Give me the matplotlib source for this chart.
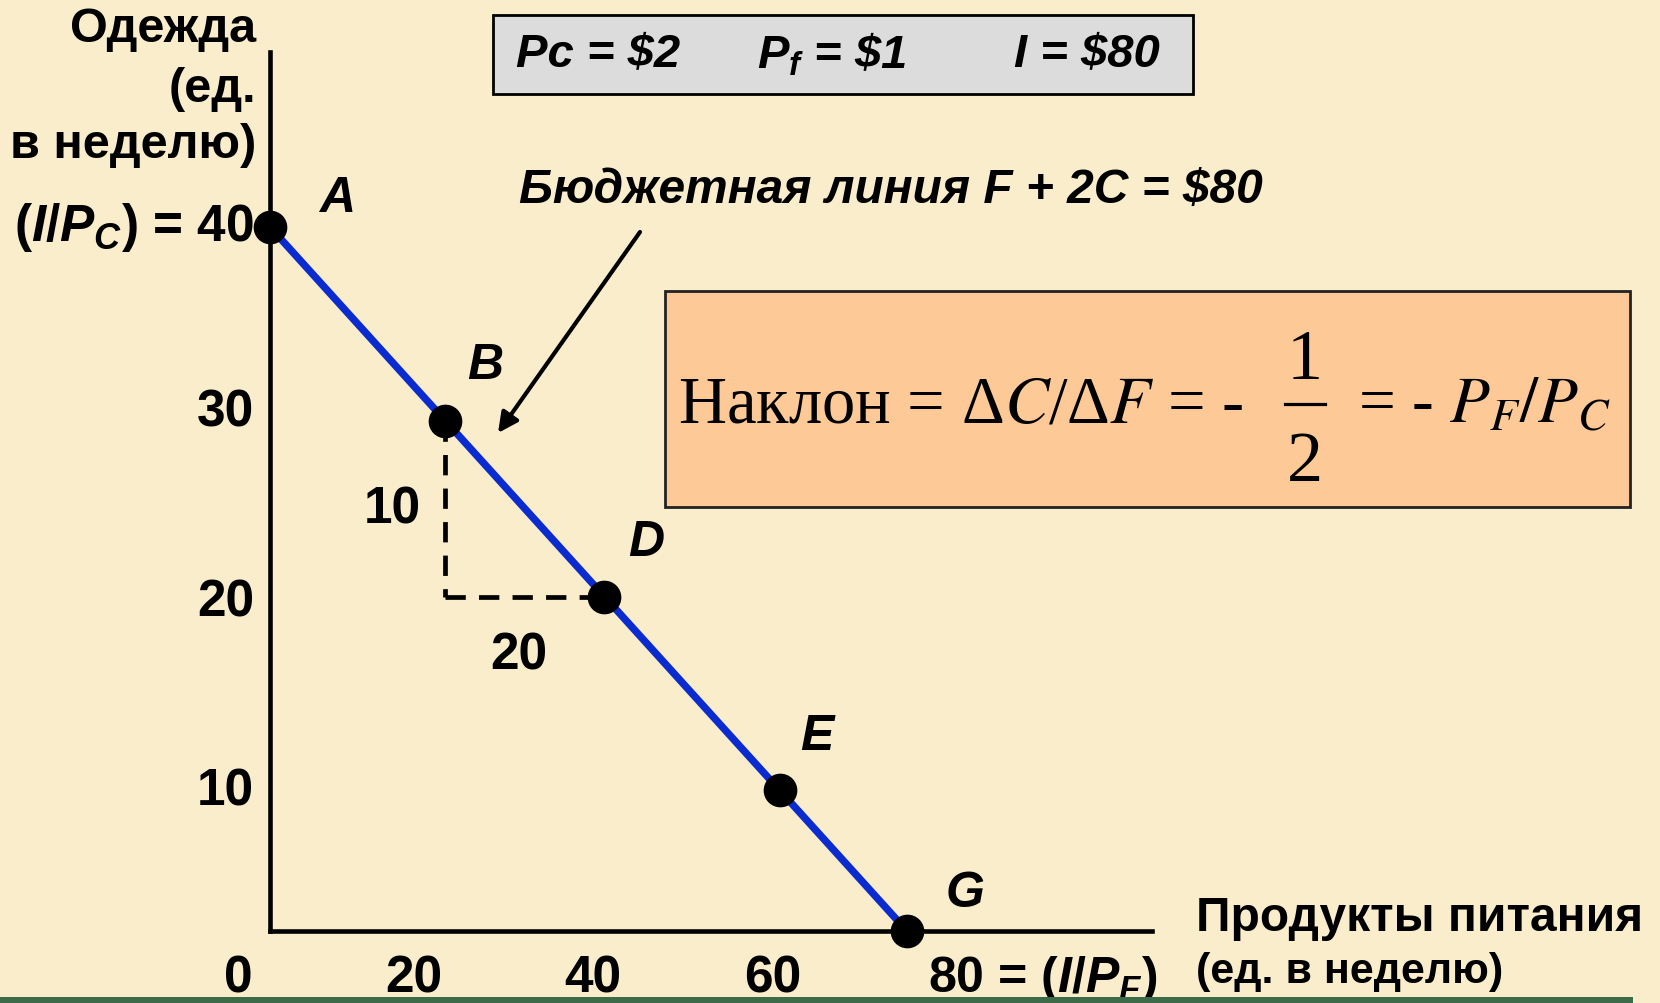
import matplotlib
matplotlib.use("Agg")
import matplotlib.pyplot as plt
from matplotlib.patches import Rectangle
from matplotlib.lines import Line2D

plt.rcParams["font.family"] = ["Liberation Sans", "DejaVu Sans"]
plt.rcParams["mathtext.fontset"] = "custom"
plt.rcParams["mathtext.rm"] = "Liberation Sans:bold"
plt.rcParams["mathtext.it"] = "Liberation Sans:bold:italic"
plt.rcParams["mathtext.bf"] = "Liberation Sans:bold"

# points on the budget line
point_names = ["A", "B", "D", "E", "G"]
food = [0, 22, 42, 64, 80]
clothing = [40, 29, 19, 8, 0]

x_tick_labels = ["0", "20", "40", "60"]
x_tick_at = [-4, 18, 40.6, 63.2]
y_tick_labels = ["$(I/P_C)$ = 40", "30", "20", "10"]
y_tick_at = [40, 29.5, 18.7, 7.95]

BG = "#f9edcb"
BLUE = "#0a2bd0"
W, H = 1660, 1004


def fx(px):
    return px / W


def fy(py):
    return 1 - py / H


fig = plt.figure(figsize=(16.6, 10.04), dpi=100)
fig.patch.set_facecolor(BG)

# axes: x=0 at px 270, x=80 at px 907; y=0 at px 932, y=40 at px 228
sx = (907 - 270) / 80
sy = (932 - 228) / 40
ax = fig.add_axes([fx(270), fy(932), (1152 - 270) / W, (932 - 53) / H])
ax.set_xlim(0, (1152 - 270) / sx)
ax.set_ylim(0, (932 - 53) / sy)
ax.set_facecolor("none")
for s in ["top", "right"]:
    ax.spines[s].set_visible(False)
for s in ["left", "bottom"]:
    ax.spines[s].set_linewidth(3.3)
ax.set_xticks([])
ax.set_yticks([])

ax.plot(food, clothing, color=BLUE, lw=5.3, solid_capstyle="butt", zorder=3)
ax.scatter(food, clothing, s=540, color="black", zorder=5, clip_on=False)

label_off = [(48, 21), (29, 40), (30, 39), (27, 39), (42, 27)]
for name, x, y, off in zip(point_names, food, clothing, label_off):
    ax.annotate(name, (x, y), xytext=off, textcoords="offset points",
                ha="center", va="center", fontsize=36, fontweight="bold",
                fontstyle="italic")

# 10 / 20 step triangle between B and D
bx, by = food[1], clothing[1]
dx, dy = food[2], clothing[2]
dash = (0, (4.3, 2.8))
ax.plot([bx, bx], [by, dy], color="black", lw=3.4, ls=dash, zorder=2)
ax.plot([bx, dx], [dy, dy], color="black", lw=3.4, ls=dash, zorder=2)
ax.annotate(f"{by - dy}", (bx, (by + dy) / 2), xytext=(-38, 0),
            textcoords="offset points", ha="center", va="center",
            fontsize=37, fontweight="bold")
ax.annotate(f"{dx - bx}", ((bx + dx) / 2, dy), xytext=(-4, -42),
            textcoords="offset points", ha="center", va="center",
            fontsize=37, fontweight="bold")

# tick labels
for lab, x in zip(x_tick_labels, x_tick_at):
    ax.text(x, -2.67, lab, ha="center", va="center", fontsize=37,
            fontweight="bold", clip_on=False)
ax.text(82.6, -2.67, "80 = $(I/P_F)$", ha="left", va="center", fontsize=36,
        fontweight="bold", clip_on=False)
for lab, y in zip(y_tick_labels, y_tick_at):
    ax.text(-2.0, y, lab, ha="right", va="center", fontsize=37,
            fontweight="bold", clip_on=False)

# axis titles
for txt, py in [("Одежда", 30), ("(ед.", 90), ("в неделю)", 145)]:
    fig.text(fx(256), fy(py), txt, ha="right", va="center", fontsize=35,
             fontweight="bold")
fig.text(fx(1196), fy(919), "Продукты питания", ha="left", va="center",
         fontsize=34.5, fontweight="bold")
fig.text(fx(1196), fy(972), "(ед. в неделю)", ha="left", va="center",
         fontsize=31, fontweight="bold")

# prices box
fig.add_artist(Rectangle((fx(493), fy(95)), (1193 - 493) / W, (95 - 16) / H,
                         transform=fig.transFigure, facecolor="#dcdcdc",
                         edgecolor="black", lw=2))
fig.text(fx(516), fy(55), "Pc = $2", ha="left", va="center", fontsize=34,
         fontweight="bold", fontstyle="italic")
fig.text(fx(757), fy(55), "$P_f$ = \\$1", ha="left", va="center", fontsize=34,
         fontweight="bold", fontstyle="italic")
fig.text(fx(1014), fy(55), "I = $80", ha="left", va="center", fontsize=34,
         fontweight="bold", fontstyle="italic")

# budget line caption with arrow
fig.text(fx(519), fy(191), "Бюджетная линия F + 2C = $80", ha="left",
         va="center", fontsize=34.5, fontweight="bold", fontstyle="italic")
ax.annotate("", xy=((498 - 270) / sx, (932 - 434) / sy),
            xytext=((640 - 270) / sx, (932 - 233) / sy),
            arrowprops=dict(arrowstyle="-|>", lw=3, color="black",
                            mutation_scale=30, shrinkA=0, shrinkB=0))

# slope box
fig.add_artist(Rectangle((fx(665), fy(508)), (1630 - 665) / W, (508 - 292) / H,
                         transform=fig.transFigure, facecolor="#fdc996",
                         edgecolor="#222222", lw=2))
serif = dict(family="Liberation Serif", math_fontfamily="stix",
             va="baseline")
fig.text(fx(678), fy(423), "Наклон = Δ$C$/Δ$F$ = -", ha="left",
         fontsize=48, **serif)
fig.text(fx(1305), fy(379), "1", ha="center", fontsize=52, **serif)
fig.text(fx(1305), fy(481), "2", ha="center", fontsize=52, **serif)
fig.add_artist(Line2D([fx(1285), fx(1325)], [fy(405), fy(405)],
                      transform=fig.transFigure, color="black", lw=2.3))
fig.text(fx(1358), fy(423), "= - $P_F/P_C$", ha="left", fontsize=47,
         **serif)

# green strip at the bottom
fig.add_artist(Rectangle((0, 0), 1633 / W, 6 / H, transform=fig.transFigure,
                         facecolor="#3d6b47", edgecolor="none"))

fig.savefig("out.png", dpi=100, facecolor=BG)
